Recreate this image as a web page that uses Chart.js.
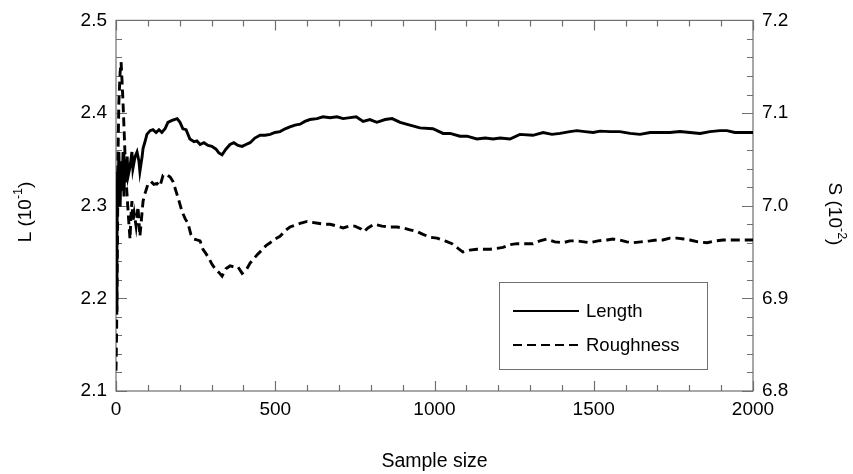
<!DOCTYPE html>
<html>
<head>
<meta charset="utf-8">
<script src="https://cdn.jsdelivr.net/npm/chart.js@4.4.1/dist/chart.umd.min.js"></script>
<style>
  html, body { margin: 0; padding: 0; background: #fff; }
  #wrap { width: 853px; height: 474px; }
</style>
</head>
<body>
<div id="wrap"><canvas id="convChart" width="853" height="474"></canvas></div>
<script>
// sample size (x) and running mean of Length, left axis (10^-1)
const lengthN = [0, 3, 5, 6, 9, 13, 16, 19, 22, 25, 28, 31, 35, 38, 44, 50, 53, 60, 66, 72, 75, 82, 85, 91, 97,
  107, 116, 126, 135, 144, 154, 163, 176, 192, 201, 210, 220, 232, 245, 254, 264, 276, 289, 301, 314, 323, 333,
  345, 358, 370, 383, 396, 408, 421, 436, 452, 468, 484, 499, 515, 531, 546, 562, 578, 593, 609, 631, 650, 672,
  694, 713, 735, 754, 776, 797, 819, 845, 867, 892, 923, 954, 995, 1027, 1049, 1080, 1102, 1133, 1159, 1184,
  1206, 1237, 1268, 1309, 1341, 1369, 1394, 1425, 1447, 1472, 1498, 1520, 1551, 1582, 1614, 1645, 1677, 1708,
  1739, 1771, 1802, 1834, 1865, 1896, 1918, 1943, 1975, 2000];
const lengthVal = [2.187, 2.262, 2.337, 2.305, 2.358, 2.299, 2.348, 2.316, 2.358, 2.310, 2.348, 2.326, 2.353,
  2.332, 2.342, 2.358, 2.340, 2.353, 2.358, 2.348, 2.337, 2.353, 2.362, 2.369, 2.377, 2.381, 2.382, 2.379,
  2.382, 2.379, 2.383, 2.390, 2.392, 2.394, 2.390, 2.383, 2.382, 2.372, 2.369, 2.370, 2.366, 2.368, 2.365,
  2.364, 2.361, 2.357, 2.355, 2.361, 2.366, 2.368, 2.365, 2.364, 2.366, 2.368, 2.373, 2.376, 2.376, 2.377,
  2.379, 2.380, 2.383, 2.385, 2.387, 2.388, 2.391, 2.393, 2.394, 2.396, 2.395, 2.396, 2.394, 2.395, 2.396,
  2.391, 2.393, 2.390, 2.393, 2.394, 2.390, 2.387, 2.384, 2.383, 2.378, 2.378, 2.375, 2.375, 2.372, 2.373,
  2.372, 2.373, 2.372, 2.377, 2.376, 2.379, 2.377, 2.378, 2.380, 2.381, 2.380, 2.379, 2.3805, 2.380, 2.380,
  2.378, 2.377, 2.379, 2.379, 2.379, 2.380, 2.379, 2.378, 2.380, 2.381, 2.381, 2.379, 2.379, 2.379];

// sample size (x) and running mean of Roughness, right axis (10^-2)
const roughN = [0, 2, 3, 5, 6, 9, 13, 16, 19, 22, 25, 28, 31, 35, 38, 41, 44, 47, 50, 53, 57, 63, 69, 75, 78, 85,
  91, 100, 110, 119, 129, 138, 148, 157, 170, 179, 188, 198, 207, 217, 226, 235, 245, 254, 264, 273, 283, 292,
  301, 311, 323, 333, 345, 358, 370, 383, 396, 408, 421, 433, 446, 458, 471, 484, 499, 515, 531, 546, 562, 578,
  600, 615, 634, 653, 672, 694, 713, 732, 750, 769, 779, 791, 810, 835, 860, 882, 901, 923, 945, 964, 986,
  1008, 1033, 1055, 1074, 1089, 1111, 1133, 1155, 1174, 1196, 1215, 1237, 1259, 1284, 1309, 1331, 1353, 1378,
  1403, 1425, 1447, 1469, 1488, 1513, 1542, 1560, 1582, 1604, 1623, 1648, 1677, 1699, 1717, 1739, 1761, 1783,
  1802, 1827, 1856, 1881, 1906, 1943, 1975, 2000];
const roughVal = [6.822, 6.865, 6.908, 6.973, 7.048, 7.112, 7.144, 7.155, 7.134, 7.112, 7.085, 7.058, 7.032,
  7.010, 6.994, 6.978, 6.964, 6.989, 7.005, 6.983, 6.992, 6.978, 6.999, 6.967, 6.978, 7.005, 7.013, 7.023,
  7.026, 7.023, 7.024, 7.021, 7.033, 7.034, 7.031, 7.026, 7.016, 7.005, 6.994, 6.986, 6.981, 6.969, 6.964,
  6.963, 6.962, 6.953, 6.948, 6.943, 6.937, 6.932, 6.928, 6.924, 6.932, 6.935, 6.934, 6.934, 6.927, 6.930,
  6.938, 6.943, 6.948, 6.952, 6.957, 6.960, 6.964, 6.967, 6.973, 6.977, 6.979, 6.981, 6.983, 6.982, 6.981,
  6.980, 6.980, 6.978, 6.976, 6.978, 6.978, 6.975, 6.972, 6.976, 6.980, 6.978, 6.977, 6.977, 6.976, 6.974,
  6.972, 6.969, 6.966, 6.965, 6.962, 6.959, 6.954, 6.950, 6.952, 6.953, 6.953, 6.953, 6.954, 6.955, 6.958,
  6.959, 6.959, 6.959, 6.962, 6.964, 6.961, 6.960, 6.962, 6.962, 6.961, 6.960, 6.962, 6.963, 6.964, 6.963,
  6.961, 6.960, 6.961, 6.962, 6.963, 6.963, 6.965, 6.965, 6.964, 6.963, 6.961, 6.960, 6.962, 6.963, 6.963,
  6.963, 6.963];

const seriesNames = ['Length', 'Roughness'];
const xTickValues = [0, 500, 1000, 1500, 2000];

const FONT = '"Liberation Sans", Arial, sans-serif';
const frameColor = '#6f6f6f';

// turn the arrays into {x, y} points
function toPoints(xs, ys) {
  return xs.map((x, i) => ({ x: x, y: ys[i] }));
}

// inward ticks, frame and the boxed legend
const framePlugin = {
  id: 'frameTicks',
  beforeDatasetsDraw(chart) {
    const ctx = chart.ctx;
    const a = chart.chartArea;
    const xs = chart.scales.x, yl = chart.scales.y, yr = chart.scales.y2;
    ctx.save();
    ctx.strokeStyle = frameColor;
    ctx.lineWidth = 1.2;
    ctx.strokeRect(a.left, a.top, a.right - a.left, a.bottom - a.top);
    ctx.beginPath();
    for (let i = 0; i <= 20; i++) {
      const px = Math.round(xs.getPixelForValue(i * 100)) + 0.5;
      const len = i % 5 === 0 ? 10 : 6;
      ctx.moveTo(px, a.bottom); ctx.lineTo(px, a.bottom - len);
      ctx.moveTo(px, a.top); ctx.lineTo(px, a.top + len);
    }
    for (let i = 0; i <= 20; i++) {
      const len = i % 5 === 0 ? 11 : 6;
      const pl = Math.round(yl.getPixelForValue(2.1 + i * 0.02)) + 0.5;
      ctx.moveTo(a.left, pl); ctx.lineTo(a.left + len, pl);
      const pr = Math.round(yr.getPixelForValue(6.8 + i * 0.02)) + 0.5;
      ctx.moveTo(a.right, pr); ctx.lineTo(a.right - len, pr);
    }
    ctx.stroke();
    ctx.restore();
  },
  afterDraw(chart) {
    const ctx = chart.ctx;
    ctx.save();
    // y axis titles with superscripts
    drawSupTitle(ctx, 24, 212, -Math.PI / 2, 'L (10', '-1', ')');
    drawSupTitle(ctx, 836, 214, Math.PI / 2, 'S (10', '-2', ')');

    // legend box
    const bx = 499, by = 282, bw = 208, bh = 87;
    ctx.fillStyle = '#fff';
    ctx.fillRect(bx, by, bw, bh);
    ctx.strokeStyle = frameColor;
    ctx.lineWidth = 1;
    ctx.strokeRect(bx + 0.5, by + 0.5, bw, bh);
    const rows = [311, 345];
    chart.data.datasets.forEach((ds, i) => {
      ctx.strokeStyle = '#000';
      ctx.lineWidth = 2.2;
      ctx.setLineDash(ds.borderDash || []);
      ctx.beginPath();
      ctx.moveTo(513, rows[i]);
      ctx.lineTo(579, rows[i]);
      ctx.stroke();
      ctx.setLineDash([]);
      ctx.fillStyle = '#000';
      ctx.font = '18.5px ' + FONT;
      ctx.textAlign = 'left';
      ctx.textBaseline = 'middle';
      ctx.fillText(ds.label, 586, rows[i] + 1);
    });
    ctx.restore();
  }
};

function drawSupTitle(ctx, cx, cy, angle, base, sup, tail) {
  ctx.save();
  ctx.translate(cx, cy);
  ctx.rotate(angle);
  const big = '19px ' + FONT, small = '12.5px ' + FONT;
  ctx.font = big;
  const w1 = ctx.measureText(base).width;
  const w3 = ctx.measureText(tail).width;
  ctx.font = small;
  const w2 = ctx.measureText(sup).width;
  let x = -(w1 + w2 + w3) / 2;
  ctx.fillStyle = '#000';
  ctx.textAlign = 'left';
  ctx.textBaseline = 'alphabetic';
  ctx.font = big;
  ctx.fillText(base, x, 7);
  x += w1;
  ctx.font = small;
  ctx.fillText(sup, x, -2);
  x += w2;
  ctx.font = big;
  ctx.fillText(tail, x, 7);
  ctx.restore();
}

const ctxConv = document.getElementById('convChart').getContext('2d');

new Chart(ctxConv, {
  type: 'line',
  data: {
    datasets: [
      {
        label: seriesNames[0],
        data: toPoints(lengthN, lengthVal),
        yAxisID: 'y',
        borderColor: '#000',
        borderWidth: 2.9,
        pointRadius: 0,
        tension: 0
      },
      {
        label: seriesNames[1],
        data: toPoints(roughN, roughVal),
        yAxisID: 'y2',
        borderColor: '#000',
        borderWidth: 2.9,
        borderDash: [9, 5],
        pointRadius: 0,
        tension: 0
      }
    ]
  },
  options: {
    responsive: false,
    animation: false,
    devicePixelRatio: 1,
    layout: { padding: { top: 18, left: 0, right: 0, bottom: 0 } },
    plugins: {
      legend: { display: false },
      tooltip: { enabled: false }
    },
    scales: {
      x: {
        type: 'linear',
        min: 0,
        max: 2000,
        afterFit(scale) { scale.height = 83; },
        afterBuildTicks(scale) {
          scale.ticks = xTickValues.map(v => ({ value: v }));
        },
        grid: { display: false, drawTicks: false },
        border: { display: false },
        ticks: {
          color: '#000',
          font: { family: FONT, size: 19 },
          padding: 7,
          maxRotation: 0,
          callback: v => String(v)
        },
        title: {
          display: true,
          text: 'Sample size',
          color: '#000',
          font: { family: FONT, size: 19.5 },
          padding: { top: 0, bottom: 1 }
        }
      },
      y: {
        position: 'left',
        min: 2.1,
        max: 2.5,
        afterFit(scale) { scale.width = 116; },
        grid: { display: false, drawTicks: false },
        border: { display: false },
        ticks: {
          stepSize: 0.1,
          color: '#000',
          font: { family: FONT, size: 19 },
          padding: 9,
          callback: v => v.toFixed(1)
        }
      },
      y2: {
        position: 'right',
        min: 6.8,
        max: 7.2,
        afterFit(scale) { scale.width = 100; },
        grid: { display: false, drawTicks: false },
        border: { display: false },
        ticks: {
          stepSize: 0.1,
          color: '#000',
          font: { family: FONT, size: 19 },
          padding: 9,
          callback: v => v.toFixed(1)
        }
      }
    }
  },
  plugins: [framePlugin]
});
</script>
</body>
</html>
